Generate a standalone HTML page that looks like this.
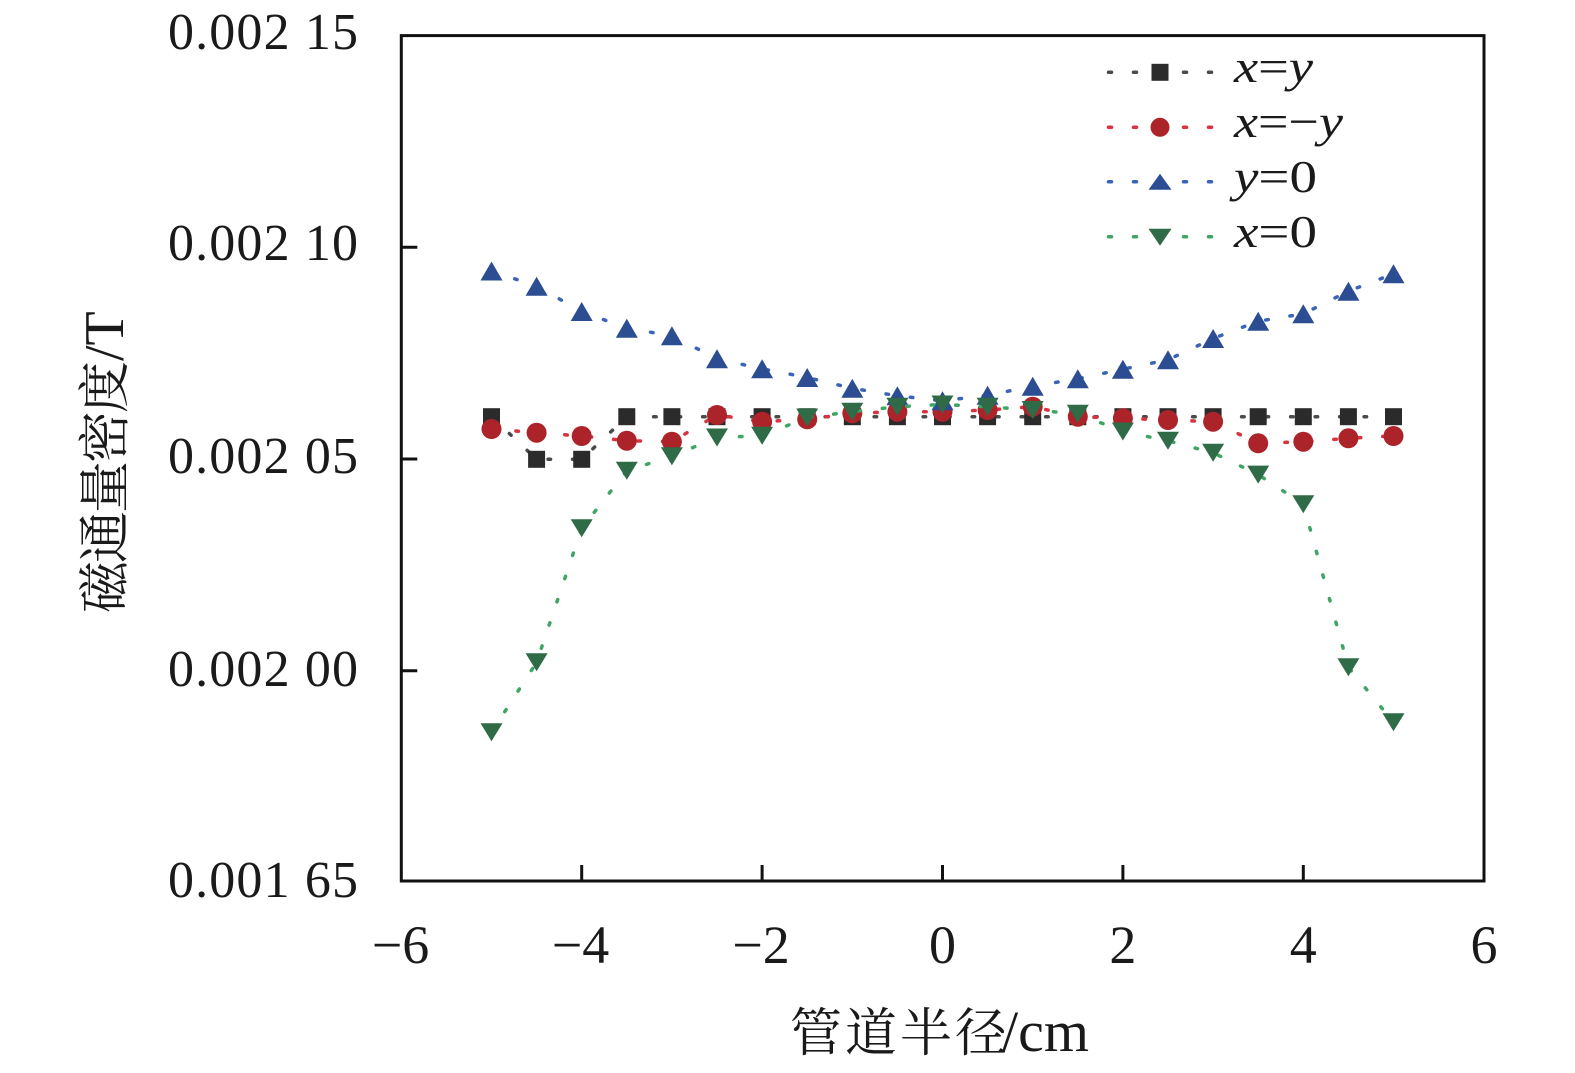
<!DOCTYPE html>
<html>
<head>
<meta charset="utf-8">
<style>
  html,body{margin:0;padding:0;background:#fff;}
  svg{display:block;}
  text{font-family:"Liberation Serif","Noto Serif CJK SC",serif;fill:#1a1a1a;}
  .cjk{font-family:"Noto Serif CJK SC","Liberation Serif",serif;}
  .lat{font-family:"Liberation Serif",serif;}
</style>
</head>
<body>
<svg width="1575" height="1073" viewBox="0 0 1575 1073" xmlns="http://www.w3.org/2000/svg">
  <rect width="1575" height="1073" fill="#fff"/>
  <defs>
    <marker id="mSq" markerUnits="userSpaceOnUse" markerWidth="20" markerHeight="20" refX="10" refY="10" overflow="visible">
      <rect x="1.5" y="1.5" width="17" height="17" fill="#2b2b2b"/>
    </marker>
    <marker id="mCi" markerUnits="userSpaceOnUse" markerWidth="22" markerHeight="22" refX="11" refY="11" overflow="visible">
      <circle cx="11" cy="11" r="10" fill="#ad232a"/>
    </marker>
    <marker id="mUp" markerUnits="userSpaceOnUse" markerWidth="22" markerHeight="19" refX="11" refY="9.5" overflow="visible">
      <polygon points="0,19 11,0 22,19" fill="#2c4d92"/>
    </marker>
    <marker id="mDn" markerUnits="userSpaceOnUse" markerWidth="22" markerHeight="18" refX="11" refY="9" overflow="visible">
      <polygon points="0,0 22,0 11,18" fill="#2f6b47"/>
    </marker>
  </defs>

  <!-- axes frame -->
  <rect x="401.3" y="35.6" width="1082.7" height="845.4" fill="none" stroke="#111" stroke-width="3"/>
  <g stroke="#111" stroke-width="3">
    <line x1="581.7" y1="881" x2="581.7" y2="865"/>
    <line x1="762.1" y1="881" x2="762.1" y2="865"/>
    <line x1="942.5" y1="881" x2="942.5" y2="865"/>
    <line x1="1122.9" y1="881" x2="1122.9" y2="865"/>
    <line x1="1303.3" y1="881" x2="1303.3" y2="865"/>
    <line x1="401.3" y1="247.3" x2="417.3" y2="247.3"/>
    <line x1="401.3" y1="459" x2="417.3" y2="459"/>
    <line x1="401.3" y1="670.7" x2="417.3" y2="670.7"/>
  </g>

  <!-- y tick labels -->
  <g font-size="52" text-anchor="end" class="lat">
    <text x="358" y="49" textLength="190">0.002 15</text>
    <text x="358" y="260" textLength="190">0.002 10</text>
    <text x="358" y="473" textLength="190">0.002 05</text>
    <text x="358" y="686" textLength="190">0.002 00</text>
    <text x="358" y="897" textLength="190">0.001 65</text>
  </g>

  <!-- x tick labels -->
  <g font-size="54" text-anchor="middle" class="lat">
    <text x="400.5" y="963">−6</text>
    <text x="580.5" y="963">−4</text>
    <text x="761" y="963">−2</text>
    <text x="942.5" y="963">0</text>
    <text x="1122.9" y="963">2</text>
    <text x="1303.3" y="963">4</text>
    <text x="1484" y="963">6</text>
  </g>

  <!-- axis titles -->
  <text y="1051" font-size="52"><tspan class="cjk" x="790 845 900 955">管道半径</tspan><tspan class="lat" x="1002" font-size="58">/cm</tspan></text>

  <g transform="translate(123,613) rotate(-90)">
    <text y="0" font-size="52"><tspan class="cjk" x="0 50 100 150 200">磁通量密度</tspan><tspan class="lat" x="252" font-size="56">/T</tspan></text>
  </g>

  <!-- series: x=y (black) -->
  <polyline fill="none" stroke="#4a4a4a" stroke-width="3.5" stroke-linecap="round" stroke-dasharray="2.5 22"
    marker-start="url(#mSq)" marker-mid="url(#mSq)" marker-end="url(#mSq)"
    points="491.5,416.7 536.6,459.3 581.7,459.3 626.8,416.7 671.9,416.7 717,416.7 762.1,416.7 807.2,416.7 852.3,416.7 897.4,416.7 942.5,416.7 987.6,416.7 1032.7,416.7 1077.8,416.7 1122.9,416.7 1168,416.7 1213.1,416.7 1258.2,416.7 1303.3,416.7 1348.4,416.7 1393.5,416.7"/>

  <!-- series: x=-y (red) -->
  <polyline fill="none" stroke="#d8333e" stroke-width="3.5" stroke-linecap="round" stroke-dasharray="2.5 22"
    marker-start="url(#mCi)" marker-mid="url(#mCi)" marker-end="url(#mCi)"
    points="491.5,429 536.6,432.7 581.7,436 626.8,440.7 671.9,441.7 717,415 762.1,421.7 807.2,419.3 852.3,413.3 897.4,411.7 942.5,411.7 987.6,410 1032.7,406.7 1077.8,416.7 1122.9,418.3 1168,420 1213.1,421.7 1258.2,443.3 1303.3,441.7 1348.4,438.3 1393.5,436"/>

  <!-- series: y=0 (blue) -->
  <polyline fill="none" stroke="#3a64b6" stroke-width="3.5" stroke-linecap="round" stroke-dasharray="2.5 22"
    marker-start="url(#mUp)" marker-mid="url(#mUp)" marker-end="url(#mUp)"
    points="491.5,271 536.6,286.2 581.7,311.5 626.8,328.2 671.9,335.8 717,358.8 762.1,368.8 807.2,377.5 852.3,388.3 897.4,395.8 942.5,400.8 987.6,395.3 1032.7,386.2 1077.8,378.8 1122.9,369.2 1168,359.8 1213.1,338.5 1258.2,321.2 1303.3,313.8 1348.4,291.2 1393.5,273.8"/>

  <!-- series: x=0 (green) -->
  <polyline fill="none" stroke="#3fa564" stroke-width="3.5" stroke-linecap="round" stroke-dasharray="2.5 22"
    marker-start="url(#mDn)" marker-mid="url(#mDn)" marker-end="url(#mDn)"
    points="491.5,732.3 536.6,662.3 581.7,528.3 626.8,470.7 671.9,456.2 717,437.5 762.1,435.8 807.2,417.5 852.3,411.7 897.4,406.7 942.5,404.5 987.6,406.7 1032.7,410 1077.8,413.8 1122.9,431.5 1168,440.8 1213.1,452.8 1258.2,474.6 1303.3,504.2 1348.4,667.3 1393.5,722.3"/>

  <!-- legend -->
  <g stroke-width="3.5" stroke-linecap="round">
    <g stroke="#4a4a4a">
      <line x1="1108.5" y1="72.3" x2="1111.5" y2="72.3"/><line x1="1133.5" y1="72.3" x2="1136.5" y2="72.3"/>
      <line x1="1183.5" y1="72.3" x2="1186.5" y2="72.3"/><line x1="1208.5" y1="72.3" x2="1211.5" y2="72.3"/>
    </g>
    <g stroke="#d8333e">
      <line x1="1108.5" y1="127.3" x2="1111.5" y2="127.3"/><line x1="1133.5" y1="127.3" x2="1136.5" y2="127.3"/>
      <line x1="1183.5" y1="127.3" x2="1186.5" y2="127.3"/><line x1="1208.5" y1="127.3" x2="1211.5" y2="127.3"/>
    </g>
    <g stroke="#3a64b6">
      <line x1="1108.5" y1="181.7" x2="1111.5" y2="181.7"/><line x1="1133.5" y1="181.7" x2="1136.5" y2="181.7"/>
      <line x1="1183.5" y1="181.7" x2="1186.5" y2="181.7"/><line x1="1208.5" y1="181.7" x2="1211.5" y2="181.7"/>
    </g>
    <g stroke="#3fa564">
      <line x1="1108.5" y1="236.7" x2="1111.5" y2="236.7"/><line x1="1133.5" y1="236.7" x2="1136.5" y2="236.7"/>
      <line x1="1183.5" y1="236.7" x2="1186.5" y2="236.7"/><line x1="1208.5" y1="236.7" x2="1211.5" y2="236.7"/>
    </g>
  </g>
  <rect x="1151.5" y="63.8" width="17" height="17" fill="#2b2b2b"/>
  <circle cx="1160" cy="127.3" r="9.5" fill="#ad232a"/>
  <polygon points="1148.5,189.7 1160,173.7 1171.5,189.7" fill="#2c4d92"/>
  <polygon points="1148.5,228.7 1171.5,228.7 1160,245.7" fill="#2f6b47"/>

  <g font-size="46" class="lat">
    <text x="1234" y="82" textLength="79" lengthAdjust="spacingAndGlyphs"><tspan font-style="italic">x</tspan>=<tspan font-style="italic">y</tspan></text>
    <text x="1234" y="137" textLength="109" lengthAdjust="spacingAndGlyphs"><tspan font-style="italic">x</tspan>=−<tspan font-style="italic">y</tspan></text>
    <text x="1234" y="192" textLength="83" lengthAdjust="spacingAndGlyphs"><tspan font-style="italic">y</tspan>=0</text>
    <text x="1234" y="247" textLength="83" lengthAdjust="spacingAndGlyphs"><tspan font-style="italic">x</tspan>=0</text>
  </g>
</svg>
</body>
</html>
